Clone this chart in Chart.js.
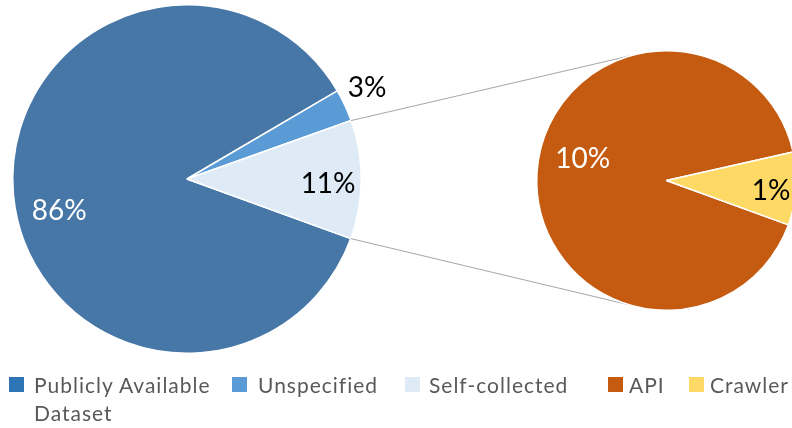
<!DOCTYPE html>
<html>
<head>
<meta charset="utf-8">
<script src="https://cdn.jsdelivr.net/npm/chart.js@4"></script>
<style>
  html, body { margin: 0; padding: 0; width: 792px; height: 428px; overflow: hidden; background: #fff; }
  canvas { position: absolute; left: 0; top: 0; }
  #legend { position: absolute; left: 0; top: 371px; width: 792px; font-family: Lato, sans-serif; font-size: 21px; letter-spacing: 1px; line-height: 28px; color: #595959; }
  .item { position: absolute; top: 0; white-space: nowrap; }
  .box { position: absolute; top: 6px; width: 15px; height: 15px; }
</style>
</head>
<body>
<canvas id="main" width="792" height="428"></canvas>
<canvas id="sub" width="830" height="428"></canvas>
<div id="legend"></div>

<script>
// main pie
const mainLabels = ['Publicly Available Dataset', 'Unspecified', 'Self-collected']
const mainValues = [86, 3, 11]

// second pie (breakdown of Self-collected)
const subLabels = ['API', 'Crawler']
const subValues = [10, 1]

const mainColors = ['#4677a6', '#5b9bd5', '#deebf7']
const subColors = ['#c55a11', '#ffd966']
const legendColors = ['#2e75b6', '#5b9bd5', '#deebf7', '#c55a11', '#ffd966']

// label placement: radius fraction and small turn (deg) from slice middle
const mainPlace = [{ r: 0.755, turn: -8.5, color: '#fff' }, { r: 1.16, turn: -2, color: '#000' }, { r: 0.81, turn: 1.4, color: '#000' }]
const subPlace = [{ r: 0.67, turn: 11.7, color: '#fff' }, { r: 0.81, turn: 1.8, color: '#000' }]

// where the connector lines meet the second pie (deg, 0 = 3 o'clock)
const joinAngles = [-104.6, 100.9]


const sliceLabels = {
    id: 'sliceLabels',
    afterDatasetsDraw(chart, args, opts) {
        const ctx = chart.ctx
        const arcs = chart.getDatasetMeta(0).data
        const values = chart.data.datasets[0].data
        ctx.save()
        ctx.font = '28px Lato'
        ctx.textAlign = 'center'
        ctx.textBaseline = 'middle'
        arcs.forEach((arc, i) => {
            const p = opts.place[i]
            const a = (arc.startAngle + arc.endAngle) / 2 + p.turn * Math.PI / 180
            const r = arc.outerRadius * p.r
            ctx.fillStyle = p.color
            ctx.fillText(values[i] + '%', arc.x + r * Math.cos(a), arc.y + r * Math.sin(a) + 1)
        })
        ctx.restore()
    }
}

const connectors = {
    id: 'connectors',
    beforeDatasetsDraw(chart) {
        const main = Chart.getChart('main')
        if (!main) return
        const src = main.getDatasetMeta(0).data[2]
        const dst = chart.getDatasetMeta(0).data[0]
        const ends = [src.startAngle, src.endAngle]
        const ctx = chart.ctx
        ctx.save()
        ctx.strokeStyle = '#a6a6a6'
        ctx.lineWidth = 1
        ends.forEach((a, i) => {
            const b = joinAngles[i] * Math.PI / 180
            ctx.beginPath()
            ctx.moveTo(src.x + src.outerRadius * Math.cos(a), src.y + src.outerRadius * Math.sin(a))
            ctx.lineTo(dst.x + dst.outerRadius * Math.cos(b), dst.y + dst.outerRadius * Math.sin(b))
            ctx.stroke()
        })
        ctx.restore()
    }
}


function pieOptions(padding, place) {
    return {
        responsive: false,
        animation: false,
        events: [],
        rotation: 110,
        layout: { padding },
        plugins: {
            legend: { display: false },
            tooltip: { enabled: false },
            sliceLabels: { place }
        }
    }
}


function drawCharts() {

    new Chart('main', {
        type: 'pie',
        data: {
            labels: mainLabels,
            datasets: [{ data: mainValues, backgroundColor: mainColors, borderColor: '#fff', borderWidth: 1.5 }]
        },
        options: pieOptions({ left: 12, top: 4, right: 430, bottom: 74 }, mainPlace),
        plugins: [sliceLabels]
    })

    new Chart('sub', {
        type: 'pie',
        data: {
            labels: subLabels,
            datasets: [{ data: subValues, backgroundColor: subColors, borderColor: '#fff', borderWidth: 1.5 }]
        },
        options: pieOptions({ left: 536, top: 50, right: 33, bottom: 117 }, subPlace),
        plugins: [connectors, sliceLabels]
    })

    // legend under both pies
    const names = mainLabels.concat(subLabels)
    const boxLeft = [9, 232, 405, 608, 689]
    const textLeft = [34, 258, 429, 629, 710]
    const legend = document.getElementById('legend')
    names.forEach((name, i) => {
        const box = document.createElement('span')
        box.className = 'box'
        box.style.left = boxLeft[i] + 'px'
        box.style.background = legendColors[i]
        legend.appendChild(box)
        const item = document.createElement('span')
        item.className = 'item'
        item.style.left = textLeft[i] + 'px'
        item.innerHTML = i === 0 ? 'Publicly Available<br>Dataset' : name
        legend.appendChild(item)
    })
}

document.fonts.load('28px Lato').then(drawCharts, drawCharts)
</script>
</body>
</html>
